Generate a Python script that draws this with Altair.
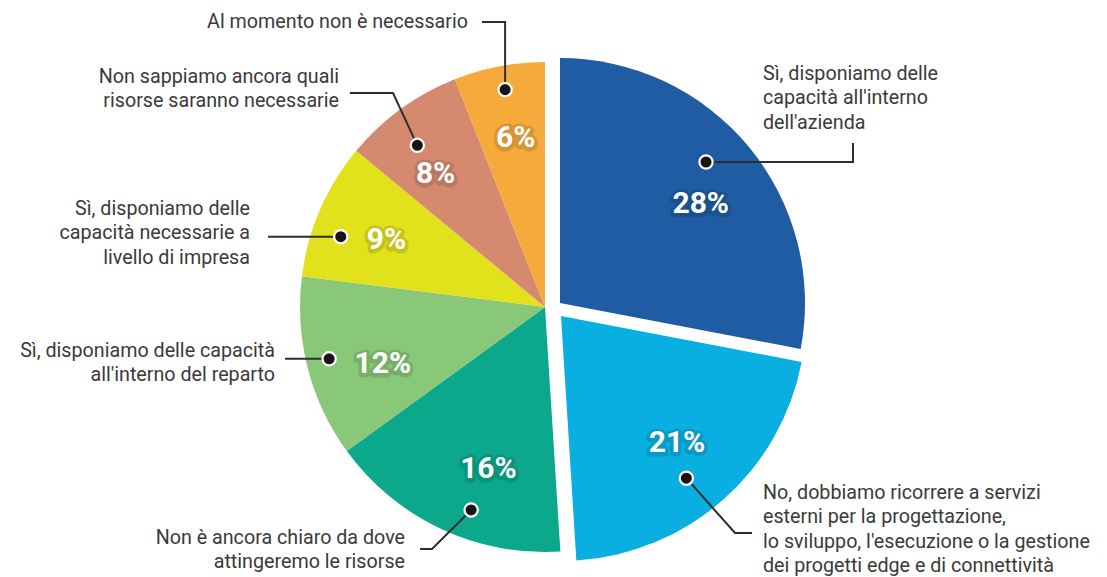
import math

import altair as alt
import pandas as pd

# ---- data -------------------------------------------------------------
answers = [
    "Sì, disponiamo delle\ncapacità all'interno\ndell'azienda",
    "No, dobbiamo ricorrere a servizi\nesterni per la progettazione,\nlo sviluppo, l'esecuzione o la gestione\ndei progetti edge e di connettività",
    "Non è ancora chiaro da dove\nattingeremo le risorse",
    "Sì, disponiamo delle capacità\nall'interno del reparto",
    "Sì, disponiamo delle\ncapacità necessarie a\nlivello di impresa",
    "Non sappiamo ancora quali\nrisorse saranno necessarie",
    "Al momento non è necessario",
]
shares = [28, 21, 16, 12, 9, 8, 6]
colors = ["#1f5ca3", "#0aafe2", "#0ca88b", "#88c878", "#e1e11c", "#d58a70", "#f5aa3b"]

# ---- layout -----------------------------------------------------------
W, H = 1107, 577
CX, CY = 545, 307          # pie centre
R = 245                    # pie radius
TEXT_R = 172               # radius of the percentage labels
# exploded slices are pulled away from the centre
shift = [(15, -4), (16, 9), (0, 0), (0, 0), (0, 0), (0, 0), (0, 0)]
# small angular nudges (degrees) so labels and dots sit clear of each other
text_nudge = [4.5, -1.0, -6.0, -5.0, -0.5, -3.5, 1.0]
dot_nudge = [-4.4, 3.7, -5.2, 0.9, -4.4, -2.3, 0.4]
dot_r = [203, 205, 216, 222, 216, 206, 221]
# callout text anchors: x, first baseline, alignment
anchors = [
    (763, 80, "left"),
    (763, 499, "left"),
    (405, 544, "right"),
    (275, 357, "right"),
    (250, 215, "right"),
    (339, 83, "right"),
    (468, 28, "right"),
]
# leader routes from each dot to its text
routes = [
    lambda x, y: [(853, y), (853, 143)],
    lambda x, y: [(735, 533), (752, 533)],
    lambda x, y: [(432, 549), (420, 549)],
    lambda x, y: [(285, y)],
    lambda x, y: [(268, y)],
    lambda x, y: [(393, 93), (350, 93)],
    lambda x, y: [(x, 22), (482, 22)],
]

# ---- derived tables ---------------------------------------------------
rows, dots, lines, notes = [], [], [], []
start = 0.0
for i, (txt, v, c) in enumerate(zip(answers, shares, colors)):
    end = start + v
    mid = (start + end) / 2
    cx, cy = CX + shift[i][0], CY + shift[i][1]
    rows.append(dict(cat=str(i), pct=f"{v}%", start=start, end=end,
                     tmid=mid + text_nudge[i] / 3.6, cx=cx, cy=cy, color=c))
    a = math.radians((mid / 100) * 360 + dot_nudge[i])
    dx, dy = cx + dot_r[i] * math.sin(a), cy - dot_r[i] * math.cos(a)
    dots.append(dict(cat=str(i), px=dx, py=dy))
    pts = [(dx, dy)] + routes[i](dx, dy)
    for k, (px, py) in enumerate(pts):
        lines.append(dict(cat=str(i), seq=k, px=px, py=py))
    ax, ay, al = anchors[i]
    notes.append(dict(cat=str(i), text=txt, px=ax, py=ay, align=al))
    start = end

slices = pd.DataFrame(rows)
dots_df = pd.DataFrame(dots)
lines_df = pd.DataFrame(lines)
notes_df = pd.DataFrame(notes)

theta_scale = alt.Scale(domain=[0, 100], range=[0, 2 * math.pi])
px_x = alt.X("cx:Q", scale=None, axis=None)
px_y = alt.Y("cy:Q", scale=None, axis=None)

pie = alt.Chart(slices).mark_arc(outerRadius=R).encode(
    x=px_x,
    y=px_y,
    theta=alt.Theta("start:Q", scale=theta_scale),
    theta2="end:Q",
    color=alt.Color("color:N", scale=None, legend=None),
)

# soft dark halo behind the white percentages
pct_shadow = alt.Chart(slices).mark_text(
    radius=TEXT_R, font="Roboto", fontWeight="bold", fontSize=30,
    color="#000", opacity=0.12, stroke="#000", strokeWidth=7,
    strokeJoin="round", dy=1,
).encode(
    x=px_x, y=px_y,
    theta=alt.Theta("tmid:Q", scale=theta_scale, stack=False),
    text="pct:N",
)

pct = alt.Chart(slices).mark_text(
    radius=TEXT_R, font="Roboto", fontWeight="bold", fontSize=30, color="white",
).encode(
    x=px_x, y=px_y,
    theta=alt.Theta("tmid:Q", scale=theta_scale, stack=False),
    text="pct:N",
)

leaders = alt.Chart(lines_df).mark_line(color="#2e2e2e", strokeWidth=2).encode(
    x=alt.X("px:Q", scale=None, axis=None),
    y=alt.Y("py:Q", scale=None, axis=None),
    detail="cat:N",
    order="seq:Q",
)

markers = alt.Chart(dots_df).mark_point(
    shape="circle", filled=True, size=175, fill="#1a1416",
    stroke="white", strokeWidth=2.2, opacity=1,
).encode(
    x=alt.X("px:Q", scale=None, axis=None),
    y=alt.Y("py:Q", scale=None, axis=None),
)


def callouts(align):
    return alt.Chart(notes_df).transform_filter(
        alt.datum.align == align
    ).mark_text(
        align=align, baseline="alphabetic", font="Roboto", fontSize=19.7,
        color="#3a3a3a", lineBreak="\n", lineHeight=24.4,
    ).encode(
        x=alt.X("px:Q", scale=None, axis=None),
        y=alt.Y("py:Q", scale=None, axis=None),
        text="text:N",
    )


chart = alt.layer(
    pie, leaders, pct_shadow, pct, markers, callouts("left"), callouts("right")
).properties(
    width=W, height=H, padding=0, autosize="none", background="white"
).configure_view(stroke=None)

chart.save("out.html", embed_options={"renderer": "svg", "actions": False})
